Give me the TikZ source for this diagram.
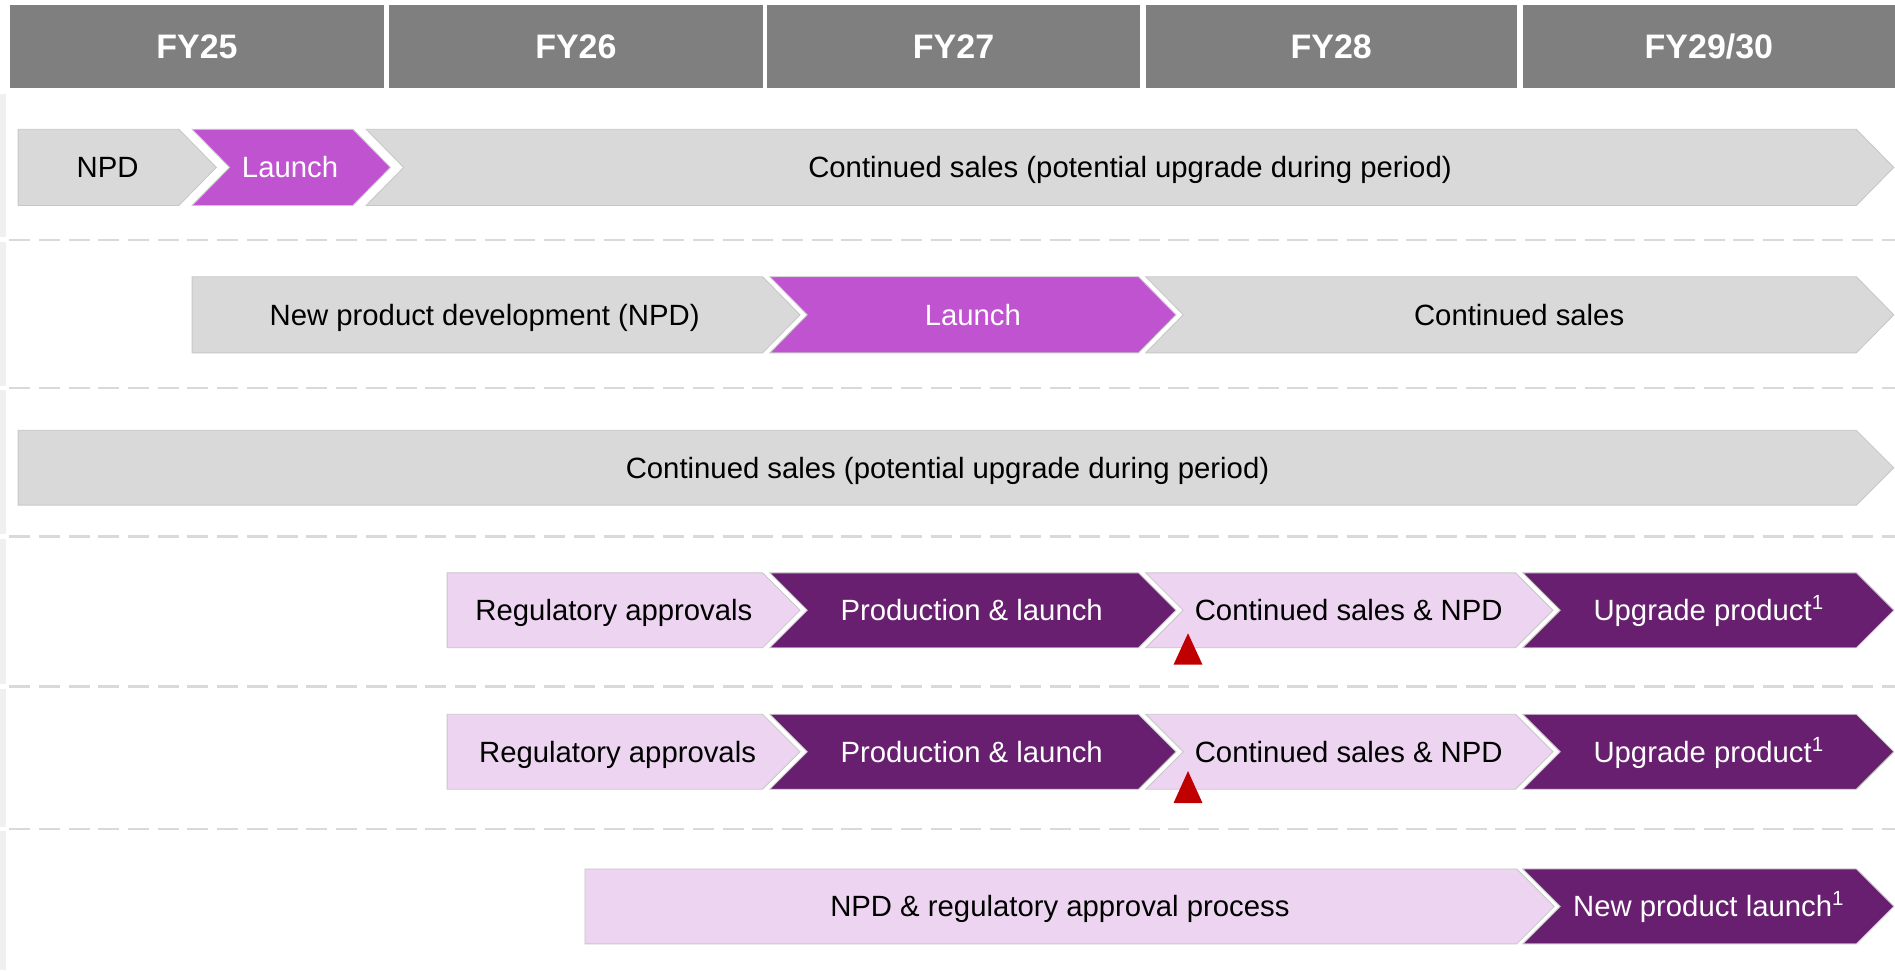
\documentclass[tikz,border=0pt]{standalone}
\usepackage{fontspec}
\setmainfont{Liberation Sans}
\definecolor{hdrgray}{HTML}{7F7F7F}
\definecolor{barGray}{HTML}{D9D9D9}
\definecolor{launchPink}{HTML}{C053D0}
\definecolor{darkPurple}{HTML}{681F70}
\definecolor{lightPink}{HTML}{EDD4F1}
\definecolor{flagRed}{HTML}{C00000}

\begin{document}
\begin{tikzpicture}[x=0.02cm, y=-0.02cm,
    hdr/.style={fill=hdrgray},
    hdrlbl/.style={text=white, font=\fontsize{16}{19}\selectfont\bfseries},
    bar/.style={draw=black!22, line width=0.4pt},
    lbl/.style={font=\fontsize{13.8}{16}\selectfont, text height=9.9pt, text depth=0pt, inner sep=0pt},
    sep/.style={draw=black!15, line width=1.3pt, dash pattern=on 9.9pt off 4.1pt},
    strip/.style={fill=black!6}]
    \useasboundingbox (0,0) rectangle (1568,803);

    % Year header
    \fill[hdr] (8,4) rectangle (318,73);
    \fill[hdr] (322,4) rectangle (631,73);
    \fill[hdr] (635,4) rectangle (943,73);
    \fill[hdr] (948,4) rectangle (1255,73);
    \fill[hdr] (1260,4) rectangle (1568,73);
    \node[hdrlbl] (fy25) at (163,38.5) {FY25};
    \node[hdrlbl] (fy26) at (476.5,38.5) {FY26};
    \node[hdrlbl] (fy27) at (789,38.5) {FY27};
    \node[hdrlbl] (fy28) at (1101.5,38.5) {FY28};
    \node[hdrlbl] (fy2930) at (1414,38.5) {FY29/30};

    % Row separators and left strips
    \foreach \y in {198.5,321,444,568,686}
        \draw[sep] (7.5,\y) -- (1568,\y);
    \foreach \a/\b in {78/196,200/319,323/442,446/566,570/684,688/803}
        \fill[strip] (0,\a) rectangle (5,\b);

    % Row 1
    \draw[bar, fill=barGray] (15,107) -- (148,107) -- (179,138.5) -- (148,170) -- (15,170) -- cycle;
    \draw[bar, fill=launchPink] (159,107) -- (292,107) -- (323,138.5) -- (292,170) -- (159,170) -- (190,138.5) -- cycle;
    \draw[bar, fill=barGray] (303,107) -- (1536,107) -- (1567,138.5) -- (1536,170) -- (303,170) -- (334,138.5) -- cycle;
    \node[lbl] (r1npd) at (89,138.5) {NPD};
    \node[lbl, text=white] (r1launch) at (240,138.5) {Launch};
    \node[lbl] (r1sales) at (935,138.5) {Continued sales (potential upgrade during period)};

    % Row 2
    \draw[bar, fill=barGray] (159,229) -- (631,229) -- (662,260.5) -- (631,292) -- (159,292) -- cycle;
    \draw[bar, fill=launchPink] (637,229) -- (942,229) -- (973,260.5) -- (942,292) -- (637,292) -- (668,260.5) -- cycle;
    \draw[bar, fill=barGray] (948,229) -- (1536,229) -- (1567,260.5) -- (1536,292) -- (948,292) -- (979,260.5) -- cycle;
    \node[lbl] (r2npd) at (401,260.5) {New product development (NPD)};
    \node[lbl, text=white] (r2launch) at (805,260.5) {Launch};
    \node[lbl] (r2sales) at (1257,260.5) {Continued sales};

    % Row 3
    \draw[bar, fill=barGray] (15,356) -- (1536,356) -- (1567,387) -- (1536,418) -- (15,418) -- cycle;
    \node[lbl] (r3sales) at (784,387) {Continued sales (potential upgrade during period)};

    % Row 4
    \draw[bar, fill=lightPink] (370,474) -- (631,474) -- (662,505) -- (631,536) -- (370,536) -- cycle;
    \draw[bar, fill=darkPurple] (637,474) -- (942,474) -- (973,505) -- (942,536) -- (637,536) -- (668,505) -- cycle;
    \draw[bar, fill=lightPink] (948,474) -- (1254,474) -- (1285,505) -- (1254,536) -- (948,536) -- (979,505) -- cycle;
    \draw[bar, fill=darkPurple] (1260,474) -- (1536,474) -- (1567,505) -- (1536,536) -- (1260,536) -- (1291,505) -- cycle;
    \node[lbl] (r4reg) at (508,505) {Regulatory approvals};
    \node[lbl, text=white] (r4prod) at (804,505) {Production \& launch};
    \node[lbl] (r4sales) at (1116,505) {Continued sales \& NPD};
    \node[lbl, text=white] (r4upg) at (1414,505) {Upgrade product\textsuperscript{1}};
    \fill[flagRed] (983,524) -- (995,550) -- (971,550) -- cycle;

    % Row 5
    \draw[bar, fill=lightPink] (370,591) -- (631,591) -- (662,622) -- (631,653) -- (370,653) -- cycle;
    \draw[bar, fill=darkPurple] (637,591) -- (942,591) -- (973,622) -- (942,653) -- (637,653) -- (668,622) -- cycle;
    \draw[bar, fill=lightPink] (948,591) -- (1254,591) -- (1285,622) -- (1254,653) -- (948,653) -- (979,622) -- cycle;
    \draw[bar, fill=darkPurple] (1260,591) -- (1536,591) -- (1567,622) -- (1536,653) -- (1260,653) -- (1291,622) -- cycle;
    \node[lbl] (r5reg) at (511,622) {Regulatory approvals};
    \node[lbl, text=white] (r5prod) at (804,622) {Production \& launch};
    \node[lbl] (r5sales) at (1116,622) {Continued sales \& NPD};
    \node[lbl, text=white] (r5upg) at (1414,622) {Upgrade product\textsuperscript{1}};
    \fill[flagRed] (983,638) -- (995,664.5) -- (971,664.5) -- cycle;

    % Row 6
    \draw[bar, fill=lightPink] (484,719) -- (1255,719) -- (1286,750) -- (1255,781) -- (484,781) -- cycle;
    \draw[bar, fill=darkPurple] (1260,719) -- (1536,719) -- (1567,750) -- (1536,781) -- (1260,781) -- (1291,750) -- cycle;
    \node[lbl] (r6npd) at (877,750) {NPD \& regulatory approval process};
    \node[lbl, text=white] (r6launch) at (1414,750) {New product launch\textsuperscript{1}};
\end{tikzpicture}
\end{document}
